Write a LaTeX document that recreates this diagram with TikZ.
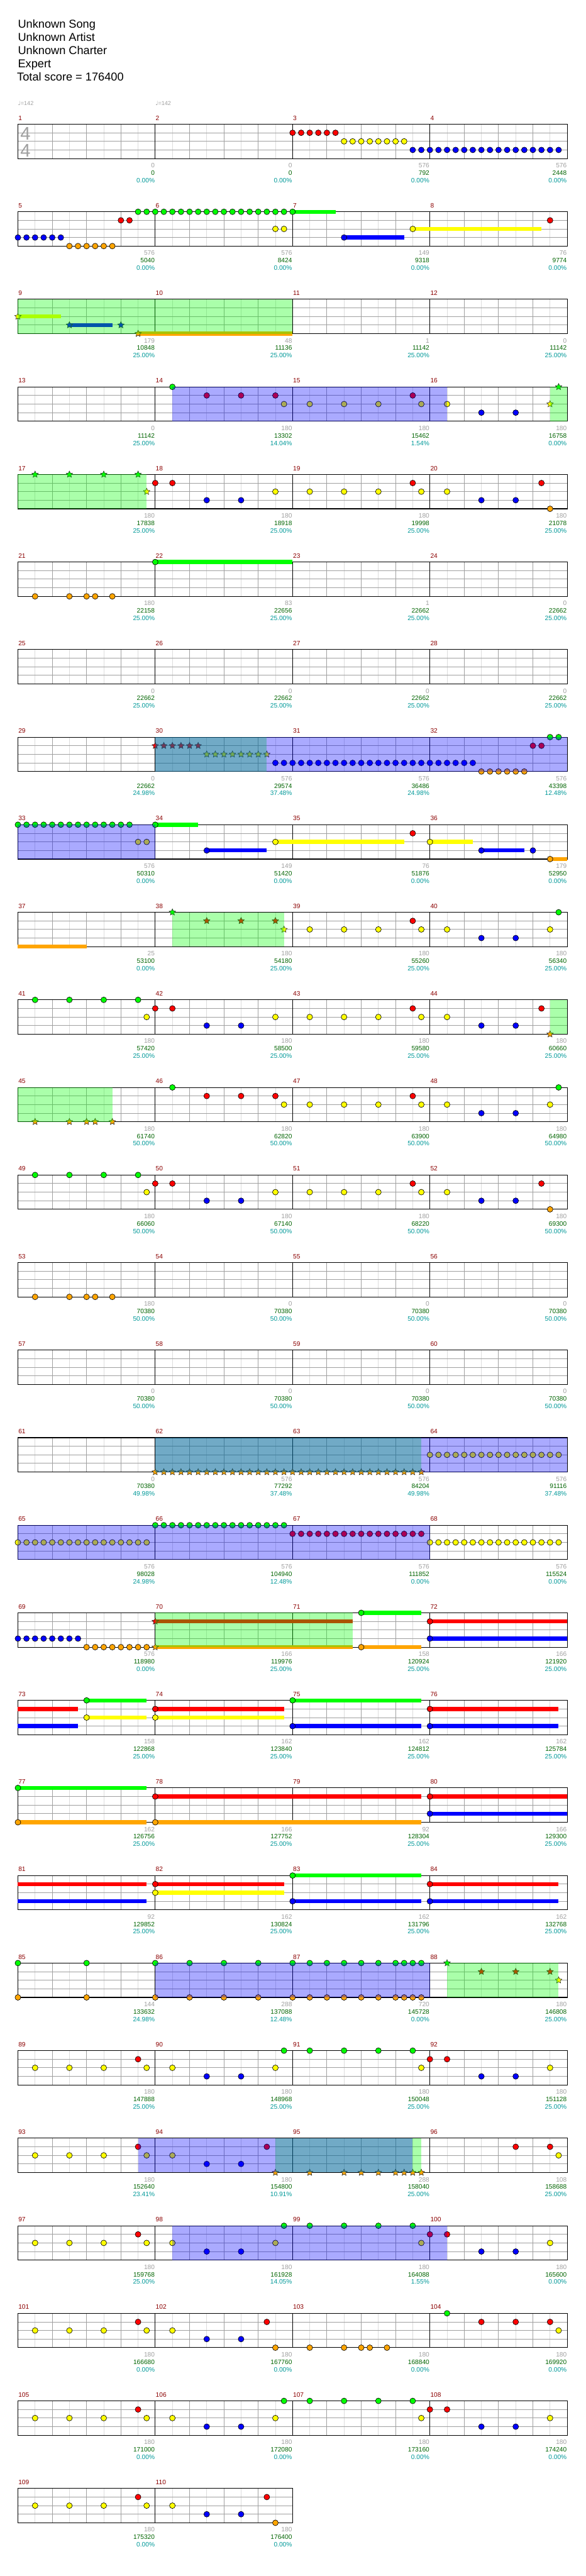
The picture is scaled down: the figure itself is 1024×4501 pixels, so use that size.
\documentclass[tikz,border=0pt]{standalone}
\usepackage{fontspec}
\setmainfont{Liberation Sans}
\newfontfamily\notefont{DejaVu Sans}
\usetikzlibrary{shapes.geometric}

\definecolor{lane0}{RGB}{0,255,0}
\definecolor{lane1}{RGB}{255,0,0}
\definecolor{lane2}{RGB}{255,255,0}
\definecolor{lane3}{RGB}{0,0,255}
\definecolor{lane4}{RGB}{255,165,0}
\definecolor{gridlight}{RGB}{220,220,220}
\definecolor{gridgray}{RGB}{160,160,160}
\definecolor{measred}{RGB}{139,0,0}
\definecolor{ptsgray}{RGB}{160,160,160}
\definecolor{scoregreen}{RGB}{0,100,0}
\definecolor{pctteal}{RGB}{0,153,153}

% staff of one row: #1 row, #2 measures
\newcommand{\staffrow}[2]{%
  \pgfmathsetmacro{\T}{64+153*#1}%
  \pgfmathtruncatemacro{\nh}{8*#2-1}%
  \pgfmathtruncatemacro{\nb}{4*#2-1}%
  \foreach \i in {1,3,...,\nh} \draw[halfline] ({31.3+30*\i},\T) -- ++(0,60);
  \foreach \i in {1,...,\nb} \draw[beatline] ({31.3+60*\i},\T) -- ++(0,60);
  \foreach \l in {1,2,3} \draw[beatline] (31.3,{\T+15*\l}) -- ++({240*#2},0);
  \foreach \m in {1,...,#2} {%
    \pgfmathtruncatemacro{\mn}{4*(#1-1)+\m}%
    \draw[barline] ({31.3+240*(\m-1)},\T) -- ++(0,60);
    \node[measnum] (m\mn) at ({31.8+240*(\m-1)},{\T-7}) {\mn};}
  \draw[staffframe] (31.3,\T) rectangle ++({240*#2},60);
}
% notes: #1 row, #2 lane, #3 beats
\newcommand{\gems}[3]{%
  \foreach \b [count=\k] in {#3}
    \node[gem, fill=lane#2] (g#1-#2-\k) at ({31.3+60*\b},{64+153*#1+15*#2}) {};}
\newcommand{\stars}[3]{%
  \foreach \b [count=\k] in {#3}
    \node[starnote, fill=lane#2] (st#1-#2-\k) at ({31.3+60*\b},{64+153*#1+15*#2}) {};}
% sustain: #1 row, #2 lane, #3 from, #4 to
\newcommand{\sustain}[4]{%
  \fill[lane#2] ({31.3+60*#3},{64+153*#1+15*#2-3.5}) rectangle ({31.3+60*#4},{64+153*#1+15*#2+3.5});}
% star power phrase and activation
\newcommand{\phrase}[3]{%
  \fill[spphrase] ({31.3+60*#2},{64+153*#1}) rectangle ({31.3+60*#3},{124+153*#1});}
\newcommand{\activation}[3]{%
  \fill[spactive] ({31.3+60*#2},{64+153*#1}) rectangle ({31.3+60*#3},{124+153*#1});}
% numbers under the measures
\newcommand{\tally}[2]{%
  \foreach \p/\s/\q [count=\m] in {#2} {%
    \pgfmathtruncatemacro{\mn}{4*(#1-1)+\m}%
    \node[pts] (p\mn) at ({30.8+240*\m},{64+153*#1+76}) {\p};
    \node[score] (s\mn) at ({30.8+240*\m},{64+153*#1+89}) {\s};
    \node[pct] (q\mn) at ({30.8+240*\m},{64+153*#1+102}) {\q};}}

\begin{document}
\begin{tikzpicture}[x=0.5pt, y=-0.5pt,
    gem/.style={circle, draw=black, line width=0.35pt, inner sep=0pt, minimum size=5pt},
    starnote/.style={star, star points=5, star point ratio=2.1, draw=black!85, line width=0.3pt, inner sep=0pt, minimum size=6pt},
    halfline/.style={draw=gridlight, line width=0.5pt},
    beatline/.style={draw=gridgray, line width=0.5pt},
    barline/.style={draw=black, line width=0.5pt},
    staffframe/.style={draw=black, line width=0.6pt},
    spphrase/.style={fill=lane0, fill opacity=0.333},
    spactive/.style={fill=lane3, fill opacity=0.333},
    measnum/.style={anchor=base west, inner sep=0pt, text=measred, font=\fontsize{5.6pt}{6pt}\selectfont},
    pts/.style={anchor=base east, inner sep=0pt, text=ptsgray, font=\fontsize{5.6pt}{6pt}\selectfont},
    score/.style={anchor=base east, inner sep=0pt, text=scoregreen, font=\fontsize{5.6pt}{6pt}\selectfont},
    pct/.style={anchor=base east, inner sep=0pt, text=pctteal, font=\fontsize{5.6pt}{6pt}\selectfont},
    header/.style={anchor=base west, inner sep=0pt, font=\fontsize{10pt}{12pt}\selectfont},
    tempo/.style={anchor=base west, inner sep=0pt, text=ptsgray, font=\fontsize{5pt}{6pt}\selectfont},
    timesig/.style={anchor=base, inner sep=0pt, text=gridgray, font=\fontsize{16pt}{16pt}\selectfont}]

    \fill[white] (0,0) rectangle (1024,4501);
    \useasboundingbox (0,0) rectangle (1024,4501);

    % Titulo
    \node[header] (song) at (31,49.3) {Unknown Song};
    \node[header] (artist) at (31,72) {Unknown Artist};
    \node[header] (charter) at (31,95) {Unknown Charter};
    \node[header] (diff) at (31,118.3) {Expert};
    \node[header] (total) at (29.5,141) {Total score = 176400};

    % Linha 1
    \node[tempo] (bpm1) at (31,184) {{\notefont ♩}=142};
    \node[tempo] (bpm2) at (271.3,184) {{\notefont ♩}=142};
    \staffrow{1}{4}
    \node[timesig] (ts1) at (44.5,245) {4};
    \node[timesig] (ts2) at (44.5,274) {4};
    \gems{1}{1}{8,8.25,...,9.25}
    \gems{1}{2}{9.5,9.75,...,11.25}
    \gems{1}{3}{11.5,11.75,...,15.75}
    \tally{1}{0/0/0.00\%,0/0/0.00\%,576/792/0.00\%,576/2448/0.00\%}

    % Linha 2
    \staffrow{2}{4}
    \sustain{2}{0}{8}{9.25}
    \sustain{2}{3}{9.5}{11.25}
    \sustain{2}{2}{11.5}{15.25}
    \gems{2}{3}{0,0.25,...,1.25,9.5}
    \gems{2}{4}{1.5,1.75,...,2.75}
    \gems{2}{1}{3,3.25,15.5}
    \gems{2}{0}{3.5,3.75,...,8}
    \gems{2}{2}{7.5,7.75,11.5}
    \tally{2}{576/5040/0.00\%,576/8424/0.00\%,149/9318/0.00\%,76/9774/0.00\%}

    % Linha 3
    \staffrow{3}{4}
    \sustain{3}{2}{0}{1.25}
    \sustain{3}{3}{1.5}{2.75}
    \sustain{3}{4}{3.5}{8}
    \stars{3}{2}{0}
    \stars{3}{3}{1.5,3}
    \stars{3}{4}{3.5}
    \phrase{3}{0}{8}
    \tally{3}{179/10848/25.00\%,48/11136/25.00\%,1/11142/25.00\%,0/11142/25.00\%}

    % Linha 4
    \staffrow{4}{4}
    \gems{4}{0}{4.5}
    \gems{4}{1}{5.5,6.5,7.5,11.5}
    \gems{4}{2}{7.75,8.5,9.5,10.5,11.75,12.5}
    \gems{4}{3}{13.5,14.5}
    \stars{4}{0}{15.75}
    \stars{4}{2}{15.5}
    \phrase{4}{15.5}{16}
    \activation{4}{4.5}{12.5}
    \tally{4}{0/11142/25.00\%,180/13302/14.04\%,180/15462/1.54\%,180/16758/0.00\%}

    % Linha 5
    \staffrow{5}{4}
    \stars{5}{0}{0.5,1.5,2.5,3.5}
    \stars{5}{2}{3.75}
    \gems{5}{1}{4,4.5,11.5,15.25}
    \gems{5}{2}{7.5,8.5,9.5,10.5,11.75,12.5}
    \gems{5}{3}{5.5,6.5,13.5,14.5}
    \gems{5}{4}{15.5}
    \phrase{5}{0}{3.75}
    \tally{5}{180/17838/25.00\%,180/18918/25.00\%,180/19998/25.00\%,180/21078/25.00\%}

    % Linha 6
    \staffrow{6}{4}
    \sustain{6}{0}{4}{8}
    \gems{6}{4}{0.5,1.5,2,2.25,2.75}
    \gems{6}{0}{4}
    \tally{6}{180/22158/25.00\%,83/22656/25.00\%,1/22662/25.00\%,0/22662/25.00\%}

    % Linha 7
    \staffrow{7}{4}
    \tally{7}{0/22662/25.00\%,0/22662/25.00\%,0/22662/25.00\%,0/22662/25.00\%}

    % Linha 8
    \staffrow{8}{4}
    \stars{8}{1}{4,4.25,...,5.25}
    \stars{8}{2}{5.5,5.75,...,7.25}
    \gems{8}{3}{7.5,7.75,...,13.25}
    \gems{8}{4}{13.5,13.75,...,14.75}
    \gems{8}{1}{15,15.25}
    \gems{8}{0}{15.5,15.75}
    \phrase{8}{4}{7.25}
    \activation{8}{4}{16}
    \tally{8}{0/22662/24.98\%,576/29574/37.48\%,576/36486/24.98\%,576/43398/12.48\%}

    % Linha 9
    \staffrow{9}{4}
    \sustain{9}{0}{4}{5.25}
    \sustain{9}{3}{5.5}{7.25}
    \sustain{9}{2}{7.5}{11.25}
    \sustain{9}{2}{12}{13.25}
    \sustain{9}{3}{13.5}{14.75}
    \sustain{9}{4}{15.5}{16}
    \gems{9}{0}{0,0.25,...,3.25,4}
    \gems{9}{2}{3.5,3.75,7.5,12}
    \gems{9}{3}{5.5,13.5,15}
    \gems{9}{1}{11.5}
    \gems{9}{4}{15.5}
    \activation{9}{0}{4}
    \tally{9}{576/50310/0.00\%,149/51420/0.00\%,76/51876/0.00\%,179/52950/0.00\%}

    % Linha 10
    \staffrow{10}{4}
    \sustain{10}{4}{0}{2}
    \stars{10}{0}{4.5}
    \stars{10}{1}{5.5,6.5,7.5}
    \stars{10}{2}{7.75}
    \gems{10}{1}{11.5}
    \gems{10}{2}{8.5,9.5,10.5,11.75,12.5,15.5}
    \gems{10}{3}{13.5,14.5}
    \gems{10}{0}{15.75}
    \phrase{10}{4.5}{7.75}
    \tally{10}{25/53100/0.00\%,180/54180/25.00\%,180/55260/25.00\%,180/56340/25.00\%}

    % Linha 11
    \staffrow{11}{4}
    \gems{11}{0}{0.5,1.5,2.5,3.5}
    \gems{11}{2}{3.75,7.5,8.5,9.5,10.5,11.75,12.5}
    \gems{11}{1}{4,4.5,11.5,15.25}
    \gems{11}{3}{5.5,6.5,13.5,14.5}
    \stars{11}{4}{15.5}
    \phrase{11}{15.5}{16}
    \tally{11}{180/57420/25.00\%,180/58500/25.00\%,180/59580/25.00\%,180/60660/25.00\%}

    % Linha 12
    \staffrow{12}{4}
    \stars{12}{4}{0.5,1.5,2,2.25,2.75}
    \gems{12}{0}{4.5,15.75}
    \gems{12}{1}{5.5,6.5,7.5,11.5}
    \gems{12}{2}{7.75,8.5,9.5,10.5,11.75,12.5,15.5}
    \gems{12}{3}{13.5,14.5}
    \phrase{12}{0}{2.75}
    \tally{12}{180/61740/50.00\%,180/62820/50.00\%,180/63900/50.00\%,180/64980/50.00\%}

    % Linha 13
    \staffrow{13}{4}
    \gems{13}{0}{0.5,1.5,2.5,3.5}
    \gems{13}{2}{3.75,7.5,8.5,9.5,10.5,11.75,12.5}
    \gems{13}{1}{4,4.5,11.5,15.25}
    \gems{13}{3}{5.5,6.5,13.5,14.5}
    \gems{13}{4}{15.5}
    \tally{13}{180/66060/50.00\%,180/67140/50.00\%,180/68220/50.00\%,180/69300/50.00\%}

    % Linha 14
    \staffrow{14}{4}
    \gems{14}{4}{0.5,1.5,2,2.25,2.75}
    \tally{14}{180/70380/50.00\%,0/70380/50.00\%,0/70380/50.00\%,0/70380/50.00\%}

    % Linha 15
    \staffrow{15}{4}
    \tally{15}{0/70380/50.00\%,0/70380/50.00\%,0/70380/50.00\%,0/70380/50.00\%}

    % Linha 16
    \staffrow{16}{4}
    \stars{16}{4}{4,4.25,...,11.75}
    \gems{16}{2}{12,12.25,...,15.75}
    \phrase{16}{4}{11.75}
    \activation{16}{4}{16}
    \tally{16}{0/70380/49.98\%,576/77292/37.48\%,576/84204/49.98\%,576/91116/37.48\%}

    % Linha 17
    \staffrow{17}{4}
    \gems{17}{2}{0,0.25,...,3.75}
    \gems{17}{0}{4,4.25,...,7.75}
    \gems{17}{1}{8,8.25,...,11.75}
    \foreach \b [count=\k] in {12,12.25,...,15.75}
      \node[gem, fill=lane2] (y17-\k) at ({31.3+60*\b},{64+153*17+30}) {};
    \activation{17}{0}{12}
    \tally{17}{576/98028/24.98\%,576/104940/12.48\%,576/111852/0.00\%,576/115524/0.00\%}

    % Linha 18
    \staffrow{18}{4}
    \sustain{18}{1}{4}{9.75}
    \sustain{18}{4}{4}{9.75}
    \sustain{18}{0}{10}{11.75}
    \sustain{18}{4}{10}{11.75}
    \sustain{18}{1}{12}{16}
    \sustain{18}{3}{12}{16}
    \gems{18}{3}{0,0.25,...,1.75,12}
    \gems{18}{4}{2,2.25,...,3.75,10}
    \stars{18}{1}{4}
    \stars{18}{4}{4}
    \gems{18}{0}{10}
    \gems{18}{1}{12}
    \phrase{18}{4}{9.75}
    \tally{18}{576/118980/0.00\%,166/119976/25.00\%,158/120924/25.00\%,166/121920/25.00\%}

    % Linha 19
    \staffrow{19}{4}
    \sustain{19}{1}{0}{1.75}
    \sustain{19}{3}{0}{1.75}
    \sustain{19}{0}{2}{3.75}
    \sustain{19}{2}{2}{3.75}
    \sustain{19}{1}{4}{7.75}
    \sustain{19}{2}{4}{7.75}
    \sustain{19}{0}{8}{11.75}
    \sustain{19}{3}{8}{11.75}
    \sustain{19}{1}{12}{15.75}
    \sustain{19}{3}{12}{15.75}
    \gems{19}{0}{2,8}
    \gems{19}{1}{4,12}
    \gems{19}{2}{2,4}
    \gems{19}{3}{8,12}
    \tally{19}{158/122868/25.00\%,162/123840/25.00\%,162/124812/25.00\%,162/125784/25.00\%}

    % Linha 20
    \staffrow{20}{4}
    \sustain{20}{0}{0}{3.75}
    \sustain{20}{4}{0}{3.75}
    \sustain{20}{1}{4}{11.75}
    \sustain{20}{4}{4}{11.75}
    \sustain{20}{1}{12}{16}
    \sustain{20}{3}{12}{16}
    \gems{20}{0}{0}
    \gems{20}{1}{4,12}
    \gems{20}{3}{12}
    \gems{20}{4}{0,4}
    \tally{20}{162/126756/25.00\%,166/127752/25.00\%,92/128304/25.00\%,166/129300/25.00\%}

    % Linha 21
    \staffrow{21}{4}
    \sustain{21}{1}{0}{3.75}
    \sustain{21}{3}{0}{3.75}
    \sustain{21}{1}{4}{7.75}
    \sustain{21}{2}{4}{7.75}
    \sustain{21}{0}{8}{11.75}
    \sustain{21}{3}{8}{11.75}
    \sustain{21}{1}{12}{15.75}
    \sustain{21}{3}{12}{15.75}
    \gems{21}{0}{8}
    \gems{21}{1}{4,12}
    \gems{21}{2}{4}
    \gems{21}{3}{8,12}
    \tally{21}{92/129852/25.00\%,162/130824/25.00\%,162/131796/25.00\%,162/132768/25.00\%}

    % Linha 22
    \staffrow{22}{4}
    \gems{22}{0}{0,2,4,5,6,7,8,8.5,9,9.5,10,10.5,11,11.25,11.5,11.75}
    \gems{22}{4}{0,2,4,5,6,7,8,8.5,9,9.5,10,10.5,11,11.25,11.5,11.75}
    \stars{22}{0}{12.5}
    \stars{22}{1}{13.5,14.5,15.5}
    \stars{22}{2}{15.75}
    \activation{22}{4}{12}
    \phrase{22}{12.5}{15.75}
    \tally{22}{144/133632/24.98\%,288/137088/12.48\%,720/145728/0.00\%,180/146808/25.00\%}

    % Linha 23
    \staffrow{23}{4}
    \gems{23}{2}{0.5,1.5,2.5,3.75,4.5,7.5,11.75,15.5}
    \gems{23}{1}{3.5,12,12.5}
    \gems{23}{3}{5.5,6.5,13.5,14.5}
    \gems{23}{0}{7.75,8.5,9.5,10.5,11.5}
    \tally{23}{180/147888/25.00\%,180/148968/25.00\%,180/150048/25.00\%,180/151128/25.00\%}

    % Linha 24
    \staffrow{24}{4}
    \gems{24}{2}{0.5,1.5,2.5,3.75,4.5,15.75}
    \gems{24}{1}{3.5,7.25,14.5,15.5}
    \gems{24}{3}{5.5,6.5}
    \stars{24}{4}{7.5,8.5,9.5,10,10.5,11,11.25,11.5,11.75}
    \phrase{24}{7.5}{11.75}
    \activation{24}{3.5}{11.5}
    \tally{24}{180/152640/23.41\%,180/154800/10.91\%,288/158040/25.00\%,108/158688/25.00\%}

    % Linha 25
    \staffrow{25}{4}
    \gems{25}{2}{0.5,1.5,2.5,3.75,4.5,7.5,11.75,15.5}
    \gems{25}{1}{3.5,12,12.5}
    \gems{25}{3}{5.5,6.5,13.5,14.5}
    \gems{25}{0}{7.75,8.5,9.5,10.5,11.5}
    \activation{25}{4.5}{12.5}
    \tally{25}{180/159768/25.00\%,180/161928/14.05\%,180/164088/1.55\%,180/165600/0.00\%}

    % Linha 26
    \staffrow{26}{4}
    \gems{26}{2}{0.5,1.5,2.5,3.75,4.5,15.75}
    \gems{26}{1}{3.5,7.25,13.5,14.5,15.5}
    \gems{26}{3}{5.5,6.5}
    \gems{26}{4}{7.5,8.5,9.5,10,10.25,10.75}
    \gems{26}{0}{12.5}
    \tally{26}{180/166680/0.00\%,180/167760/0.00\%,180/168840/0.00\%,180/169920/0.00\%}

    % Linha 27
    \staffrow{27}{4}
    \gems{27}{2}{0.5,1.5,2.5,3.75,4.5,7.5,11.75,15.5}
    \gems{27}{1}{3.5,12,12.5}
    \gems{27}{3}{5.5,6.5,13.5,14.5}
    \gems{27}{0}{7.75,8.5,9.5,10.5,11.5}
    \tally{27}{180/171000/0.00\%,180/172080/0.00\%,180/173160/0.00\%,180/174240/0.00\%}

    % Linha 28
    \staffrow{28}{2}
    \gems{28}{2}{0.5,1.5,2.5,3.75,4.5}
    \gems{28}{1}{3.5,7.25}
    \gems{28}{3}{5.5,6.5}
    \gems{28}{4}{7.5}
    \tally{28}{180/175320/0.00\%,180/176400/0.00\%}

\end{tikzpicture}
\end{document}
